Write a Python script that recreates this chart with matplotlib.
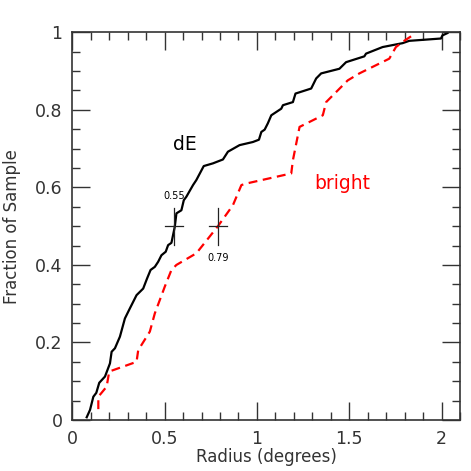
import numpy as np
import matplotlib
matplotlib.use("Agg")
import matplotlib.pyplot as plt
from matplotlib.ticker import MultipleLocator

# cumulative distributions
de_radius = [0.078, 0.096, 0.114, 0.13, 0.146, 0.177, 0.204, 0.213, 0.231, 0.258,
             0.285, 0.312, 0.348, 0.384, 0.405, 0.424, 0.447, 0.465, 0.483, 0.506,
             0.519, 0.537, 0.555, 0.564, 0.591, 0.604, 0.618, 0.654, 0.672, 0.712,
             0.762, 0.816, 0.843, 0.906, 0.978, 1.011, 1.024, 1.042, 1.059, 1.078,
             1.132, 1.141, 1.195, 1.209, 1.294, 1.321, 1.348, 1.447, 1.483, 1.582,
             1.591, 1.681, 1.789, 1.825, 1.997, 2.005, 2.032]
de_frac = [0.007, 0.026, 0.06, 0.07, 0.096, 0.112, 0.146, 0.176, 0.185, 0.215,
           0.262, 0.288, 0.322, 0.339, 0.365, 0.387, 0.395, 0.408, 0.425, 0.434,
           0.451, 0.457, 0.498, 0.533, 0.541, 0.567, 0.576, 0.606, 0.619, 0.655,
           0.662, 0.672, 0.692, 0.709, 0.717, 0.723, 0.743, 0.749, 0.765, 0.786,
           0.803, 0.812, 0.820, 0.842, 0.855, 0.881, 0.894, 0.906, 0.923, 0.938,
           0.945, 0.962, 0.972, 0.978, 0.984, 0.992, 0.998]

bright_radius = [0.141, 0.141, 0.186, 0.2, 0.348, 0.357, 0.42, 0.447, 0.501, 0.537,
                 0.564, 0.672, 0.789, 0.870, 0.916, 0.943, 1.186, 1.195, 1.231,
                 1.357, 1.375, 1.492, 1.555, 1.717, 1.753, 1.798, 1.852]
bright_frac = [0.028, 0.06, 0.086, 0.125, 0.150, 0.180, 0.228, 0.275, 0.344, 0.387,
               0.4, 0.43, 0.5, 0.554, 0.606, 0.610, 0.636, 0.670, 0.756,
               0.786, 0.820, 0.876, 0.894, 0.932, 0.962, 0.978, 0.995]

medians = [0.55, 0.79]
median_labels = ["0.55", "0.79"]

plt.rcParams['font.family'] = ['DejaVu Sans']

fig = plt.figure(figsize=(4.71, 4.71), dpi=100)
ax = fig.add_axes([0.1535, 0.1083, 0.8231, 0.8231])

ax.plot(de_radius, de_frac, color='black', lw=1.6)
ax.plot(bright_radius, bright_frac, color='red', lw=1.6, ls=(0, (4, 2.5)))

# median crosses
for m in medians:
    ax.plot([m - 0.049, m + 0.049], [0.5, 0.5], color='#222222', lw=0.9)
    ax.plot([m, m], [0.452, 0.548], color='#222222', lw=0.9)
ax.text(medians[0], 0.577, median_labels[0], ha='center', va='center', fontsize=7)
ax.text(medians[1], 0.417, median_labels[1], ha='center', va='center', fontsize=7)

ax.text(0.612, 0.71, 'dE', color='black', fontsize=13.5, ha='center', va='center')
ax.text(1.46, 0.61, 'bright', color='red', fontsize=13.5, ha='center', va='center')

ax.set_xlim(0, 2.1)
ax.set_ylim(0, 1)
ax.xaxis.set_major_locator(MultipleLocator(0.5))
ax.xaxis.set_minor_locator(MultipleLocator(0.1))
ax.yaxis.set_major_locator(MultipleLocator(0.2))
ax.yaxis.set_minor_locator(MultipleLocator(0.05))
ax.xaxis.set_major_formatter(plt.FuncFormatter(lambda v, p: f"{v:g}"))
ax.yaxis.set_major_formatter(plt.FuncFormatter(lambda v, p: f"{v:g}"))
ax.tick_params(which='both', direction='in', top=True, right=True,
               colors='#333333', labelcolor='#333333', labelsize=12.5)
ax.tick_params(which='major', length=13, width=1, pad=7)
ax.tick_params(which='minor', length=6, width=1)
for s in ax.spines.values():
    s.set_color('#333333')
    s.set_linewidth(1.2)

ax.set_xlabel('Radius (degrees)', fontsize=12, color='#333333', labelpad=0)
ax.set_ylabel('Fraction of Sample', fontsize=12, color='#333333', labelpad=10)

fig.savefig('out.png', dpi=100)
